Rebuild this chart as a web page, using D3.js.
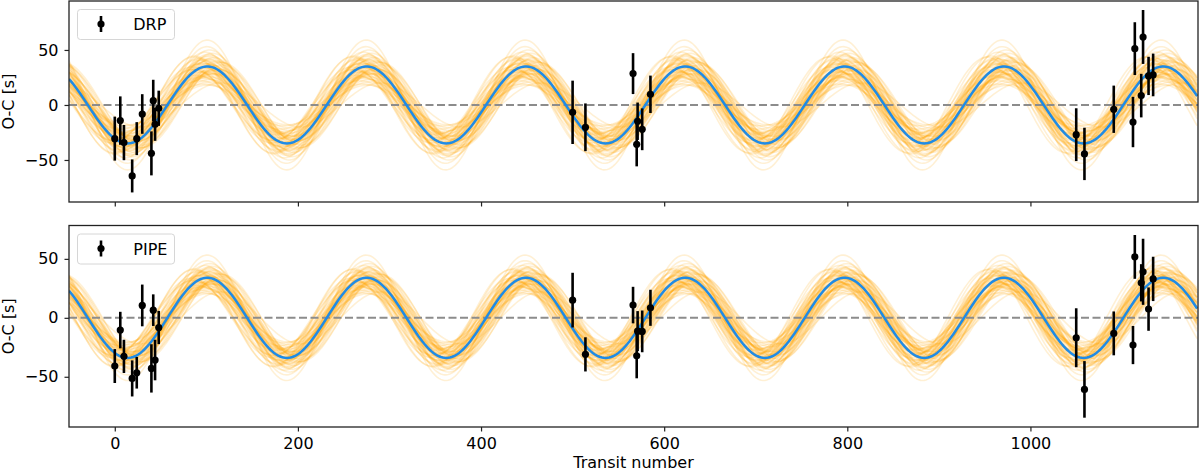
<!DOCTYPE html>
<html>
<head>
<meta charset="utf-8">
<script src="https://cdn.jsdelivr.net/npm/d3@7"></script>
<style>
  body { margin: 0; background: #fff; }
  svg { display: block; font-family: "DejaVu Sans", sans-serif; }
</style>
</head>
<body>
<script>
// transit epochs (same for both reductions)
var epochs = [0, 6, 10, 19, 24, 30, 40, 42, 44, 48,
              500, 514, 566, 570, 571, 576, 585,
              1050, 1059, 1091, 1112, 1114, 1121, 1123, 1129, 1134];

// O-C values [s] and 1-sigma errors
var drpOC  = [-30.6, -14.2, -34.2, -64.5, -30.6, -8.2, -44, 3.9, -17.6, -3,
              -6.7, -20.3, 28.5, -35.8, -14.8, -22.1, 9.7,
              -27, -44.5, -3.9, -15.5, 51.2, 8.5, 61.8, 26.4, 27.3];
var drpErr = [20, 22, 16, 15, 15, 18, 20, 19, 15, 16,
              28.8, 21.7, 18.6, 20, 17, 19, 17,
              24, 23.8, 21.5, 22.9, 24, 19.8, 24.5, 17.4, 19.4];

var pipeOC  = [-40.9, -10.4, -32.7, -51.4, -46.6, 10.5, -42.9, 6.5, -35.8, -8.2,
               15, -31, 10.8, -32.2, -11.3, -11.5, 8.5,
               -16.9, -60.7, -13.2, -23.1, 51.7, 29.7, 39, 7.4, 33];
var pipeErr = [14.4, 15.5, 14.1, 15.3, 13.4, 17.7, 20.5, 13.4, 17.2, 14.1,
               23.2, 14.5, 15.5, 19.1, 17, 17.7, 15.3,
               25, 24, 18.6, 16.2, 18.6, 15.8, 28, 18.4, 18.8];

// best-fit sinusoid: amplitude [s], period [epochs], epoch of a maximum
var drpFit  = {amp: 35, period: 174, tmax: 623};
var pipeFit = {amp: 34, period: 174, tmax: 623};

// posterior draws, as offsets from the best fit
var drawAmp = [0, 3, -4, 6, -7, 2, -2, 9, -10, 5, -5, 1, -1, 12, -13, 4, -3, 7, -6, 0.5,
               -8, 10, -11, 3.5, -2.5, 15, -16, 6.5, -4.5, 2.5, -1.5, 8, -9, 5.5, -5.5, 1.5, -0.5, 11, -12, 4.5,
               -3.5, 7.5, -6.5, 18, -17, 3, -3, 9.5, -9.5, 0, 13, -14, 2, -2, 6, -7, 24, -15, 8.5, -8.5];
var drawTmax = [0, -4, 5, -2, 3, -7, 6, 1, -3, 8, -6, 2, -1, 4, -5, 9, -9, -2.5, 3.5, 7,
                -8, 0.5, -0.5, 11, -10, 2, -3, 5.5, -4.5, 1, -1.5, 6.5, -6.5, 3, -2, 12, -12, 0, 4.5, -4,
                1.5, -7.5, 7.5, -1, 2.5, -5.5, 10, -11, 0, 3, -3.5, 5, -2, 8.5, -8.5, 1, -1, 13, -13, 0.8];
var drawPeriod = [0, 0.4, -0.3, 0.6, -0.5, 0.2, -0.8, 0.1, 0.7, -0.2, 0.3, -0.6, 0.9, -0.1, 0.5, -0.4, 1.1, -1, 0.2, -0.3,
                  0.4, -0.7, 0.6, -0.5, 0.8, 0, -0.2, 1.3, -1.2, 0.3, -0.1, 0.5, -0.6, 0.7, -0.8, 0.1, 0.4, -0.4, 1, -0.9,
                  0.2, -0.2, 0.6, -0.3, 0.9, -1.1, 0.3, 0, -0.5, 0.7, -0.7, 1.2, -1.3, 0.1, -0.1, 0.4, -0.4, 0.8, -0.6, 0.5];

var xTicks = [0, 200, 400, 600, 800, 1000];
var yTicks = [-50, 0, 50];

var width = 1200, height = 473;
var svg = d3.select('body').append('svg')
            .attr('width', width)
            .attr('height', height);

var x = d3.scaleLinear().domain([-50, 1183]).range([69, 1198]);
var grid = d3.range(-50, 1184, 2);

function panel(id, top, bottom, yDomain, oc, err, fit, ampScale, label, showX){
  var y = d3.scaleLinear().domain(yDomain).range([bottom, top]);
  var g = svg.append('g');

  svg.append('clipPath').attr('id', 'clip' + id)
     .append('rect').attr('x', 69).attr('y', top).attr('width', 1198 - 69).attr('height', bottom - top);
  var plot = g.append('g').attr('clip-path', 'url(#clip' + id + ')');

  function model(a, p, t){
    return d3.line()
      .x(function(d){ return x(d); })
      .y(function(d){ return y(a * Math.cos(2 * Math.PI * (d - t) / p)); })(grid);
  }

  // posterior draws
  plot.append('g').selectAll('path')
      .data(drawAmp)
      .enter().append('path')
      .attr('d', function(d, i){
        return model(fit.amp + d * ampScale, fit.period + drawPeriod[i], fit.tmax + 1.3 * drawTmax[i]);
      })
      .attr('fill', 'none')
      .attr('stroke', '#ffa500')
      .attr('stroke-opacity', 0.17)
      .attr('stroke-width', 1.6);

  // zero line
  plot.append('line')
      .attr('x1', 69).attr('x2', 1198)
      .attr('y1', y(0)).attr('y2', y(0))
      .attr('stroke', '#8c8c8c')
      .attr('stroke-width', 2)
      .attr('stroke-dasharray', '8,3.5');

  // best fit
  plot.append('path')
      .attr('d', model(fit.amp, fit.period, fit.tmax))
      .attr('fill', 'none')
      .attr('stroke', '#1f8be6')
      .attr('stroke-width', 2.5);

  // data with error bars
  var pts = plot.append('g').selectAll('g')
      .data(epochs).enter().append('g');
  pts.append('line')
     .attr('x1', function(d){ return x(d); })
     .attr('x2', function(d){ return x(d); })
     .attr('y1', function(d, i){ return y(oc[i] - err[i]); })
     .attr('y2', function(d, i){ return y(oc[i] + err[i]); })
     .attr('stroke', '#000')
     .attr('stroke-width', 2.6);
  pts.append('circle')
     .attr('cx', function(d){ return x(d); })
     .attr('cy', function(d, i){ return y(oc[i]); })
     .attr('r', 3.6)
     .attr('fill', '#000');

  // axes
  var xa = g.append('g').attr('transform', 'translate(0,' + bottom + ')')
            .call(d3.axisBottom(x).tickValues(xTicks).tickSize(4.5).tickPadding(6.5)
                  .tickFormat(showX ? d3.format('d') : ''));
  var ya = g.append('g').attr('transform', 'translate(69,0)')
            .call(d3.axisLeft(y).tickValues(yTicks).tickSize(4.5).tickPadding(6)
                  .tickFormat(function(d){ return d < 0 ? '\u2212' + Math.abs(d) : d; }));
  [xa, ya].forEach(function(a){
    a.select('.domain').remove();
    a.selectAll('line').attr('stroke', '#222').attr('stroke-width', 1.2);
    a.selectAll('text').attr('fill', '#000').style('font-size', '16px')
     .style('font-family', '"DejaVu Sans", sans-serif');
  });

  // frame
  g.append('rect')
   .attr('x', 69).attr('y', top)
   .attr('width', 1198 - 69).attr('height', bottom - top)
   .attr('fill', 'none').attr('stroke', '#222').attr('stroke-width', 1.3);

  // y label
  g.append('text')
   .attr('transform', 'translate(13.5,' + ((top + bottom) / 2) + ') rotate(-90)')
   .attr('text-anchor', 'middle')
   .style('font-size', '16px')
   .text('O-C [s]');

  // legend
  var ly = top + 8.5;
  var lg = g.append('g');
  lg.append('rect')
    .attr('x', 77.5).attr('y', ly).attr('width', 97).attr('height', 30)
    .attr('rx', 3).attr('fill', '#fff').attr('fill-opacity', 0.8)
    .attr('stroke', '#d6d6d6').attr('stroke-width', 1);
  lg.append('line')
    .attr('x1', 101).attr('x2', 101)
    .attr('y1', ly + 6.5).attr('y2', ly + 22.5)
    .attr('stroke', '#000').attr('stroke-width', 2.6);
  lg.append('circle')
    .attr('cx', 101).attr('cy', ly + 14.5).attr('r', 3.6).attr('fill', '#000');
  lg.append('text')
    .attr('x', 133.3).attr('y', ly + 20.5)
    .style('font-size', '16px')
    .text(label);
}

panel('a', 1, 202, [-88.2, 94.5], drpOC, drpErr, drpFit, 1, 'DRP', false);
panel('b', 225.5, 427, [-92.6, 78.3], pipeOC, pipeErr, pipeFit, 0.8, 'PIPE', true);

svg.append('text')
   .attr('x', (69 + 1198) / 2).attr('y', 468)
   .attr('text-anchor', 'middle')
   .style('font-size', '16px')
   .text('Transit number');
</script>
</body>
</html>
